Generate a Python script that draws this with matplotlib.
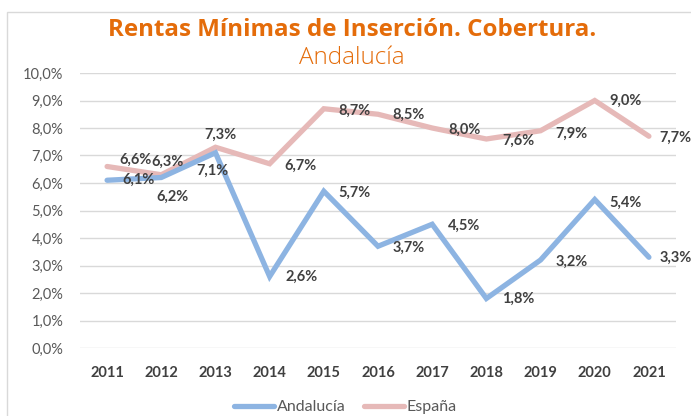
import matplotlib.pyplot as plt
from matplotlib.patches import Rectangle

# Datos
anios = ['2011', '2012', '2013', '2014', '2015', '2016', '2017', '2018', '2019', '2020', '2021']
andalucia = [6.1, 6.2, 7.1, 2.6, 5.7, 3.7, 4.5, 1.8, 3.2, 5.4, 3.3]
espana = [6.6, 6.3, 7.3, 6.7, 8.7, 8.5, 8.0, 7.6, 7.9, 9.0, 7.7]

# desplazamientos de etiquetas (px, x derecha, y arriba)
off_and = [(31, 0), (11, -19), (-3, -18), (32, 0), (31, -2), (31, -2),
           (32, -2), (32, 0), (31, -2), (31, -3), (27, -1)]
off_esp = [(28, 7), (6, 13), (5, 12), (31, -2), (31, -2), (31, -1),
           (32, -2), (32, -2), (31, -3), (31, 0), (27, -2)]

plt.rcParams['font.family'] = ['Lato', 'DejaVu Sans']

azul = '#8DB4E2'
rosa = '#E6B9B8'
naranja = '#E46C0A'
gris = '#595959'
oscuro = '#404040'

fig = plt.figure(figsize=(6.91, 4.16), dpi=100)
fig.patches.append(Rectangle((7 / 691, -0.1), 1.2, 1 - 12 / 416 + 0.1,
                             transform=fig.transFigure, fill=False,
                             edgecolor='#D9D9D9', lw=1))
ax = fig.add_axes([80 / 691, 1 - 348 / 416, 596 / 691, 275 / 416])

x = list(range(len(anios)))
ax.plot(x, [v / 100 for v in andalucia], color=azul, lw=3.8,
        solid_capstyle='round', solid_joinstyle='miter', label='Andalucía', zorder=3)
ax.plot(x, [v / 100 for v in espana], color=rosa, lw=3.8,
        solid_capstyle='round', solid_joinstyle='miter', label='España', zorder=2)

for i in x:
    ax.annotate(f'{andalucia[i]:.1f}%'.replace('.', ','), (i, andalucia[i] / 100),
                xytext=off_and[i], textcoords='offset pixels', ha='center', va='center',
                fontsize=10.5, fontweight='bold', color=oscuro, zorder=5)
    ax.annotate(f'{espana[i]:.1f}%'.replace('.', ','), (i, espana[i] / 100),
                xytext=off_esp[i], textcoords='offset pixels', ha='center', va='center',
                fontsize=10.5, fontweight='bold', color=oscuro, zorder=5)

ax.set_xlim(-0.5, 10.5)
ax.set_ylim(0, 0.10)
ax.set_yticks([i / 100 for i in range(11)])
ax.set_yticklabels([f'{i},0%' for i in range(11)], color=gris, fontsize=10.5)
ax.set_xticks(x)
ax.set_xticklabels(anios, fontsize=10.5, fontweight='bold', color=oscuro)
ax.tick_params(axis='y', length=0, pad=12)
ax.tick_params(axis='x', length=0, pad=13)
ax.grid(axis='y', color='#D9D9D9', lw=1)
ax.set_axisbelow(True)
for s in ax.spines.values():
    s.set_visible(False)

fig.text(352 / 691, 1 - 30 / 416, 'Rentas Mínimas de Inserción. Cobertura.',
         ha='center', va='center', fontsize=17.4, fontweight='bold', color=naranja,
         family=['Open Sans', 'DejaVu Sans'])
fig.text(352 / 691, 1 - 58 / 416, 'Andalucía', ha='center', va='center',
         fontsize=17.5, fontweight='light', color=naranja,
         family=['Open Sans', 'DejaVu Sans'])

fig.legend(loc='center', bbox_to_anchor=(0.5, 1 - 407 / 416), ncol=2, frameon=False,
           fontsize=11.5, handlelength=2.5, handletextpad=0.15, columnspacing=1.2,
           labelcolor=gris)

fig.savefig('out.png', dpi=100)
